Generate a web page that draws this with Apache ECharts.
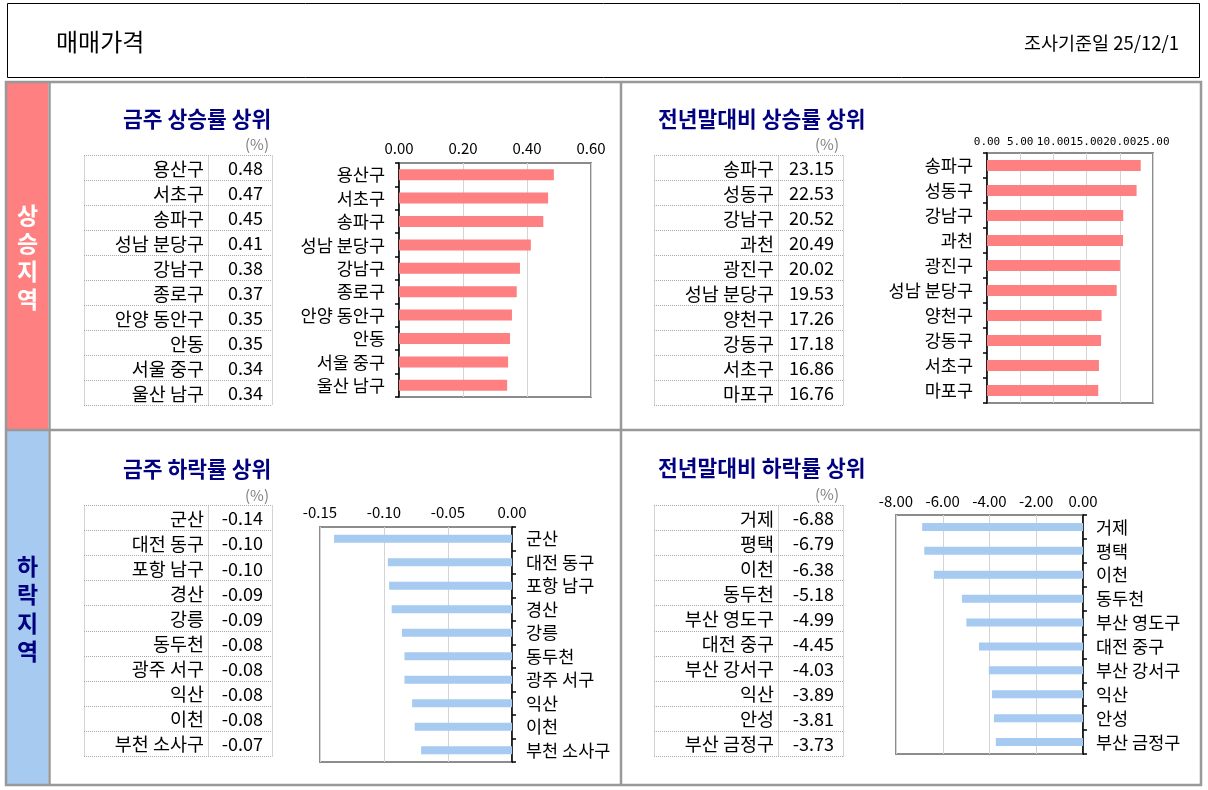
<!DOCTYPE html>
<html>
<head>
<meta charset="utf-8">
<title>매매가격</title>
<script src="https://cdn.jsdelivr.net/npm/echarts@6/dist/echarts.min.js"></script>
<style>
  html, body { margin: 0; padding: 0; background: #fff; }
  #main { width: 1208px; height: 790px; }
</style>
</head>
<body>
<div id="main"></div>
<script>
// ---------------- 데이터 ----------------
var upWeekNames = ['용산구', '서초구', '송파구', '성남 분당구', '강남구', '종로구', '안양 동안구', '안동', '서울 중구', '울산 남구'];
var upWeekValues = [0.484, 0.466, 0.451, 0.412, 0.378, 0.368, 0.353, 0.347, 0.341, 0.338];

var upYearNames = ['송파구', '성동구', '강남구', '과천', '광진구', '성남 분당구', '양천구', '강동구', '서초구', '마포구'];
var upYearValues = [23.15, 22.53, 20.52, 20.49, 20.02, 19.53, 17.26, 17.18, 16.86, 16.76];

var downWeekNames = ['군산', '대전 동구', '포항 남구', '경산', '강릉', '동두천', '광주 서구', '익산', '이천', '부천 소사구'];
var downWeekValues = [-0.139, -0.097, -0.096, -0.094, -0.086, -0.084, -0.084, -0.078, -0.076, -0.071];

var downYearNames = ['거제', '평택', '이천', '동두천', '부산 영도구', '대전 중구', '부산 강서구', '익산', '안성', '부산 금정구'];
var downYearValues = [-6.88, -6.79, -6.38, -5.18, -4.99, -4.45, -4.03, -3.89, -3.81, -3.73];

var upWeekAxis = [0, 0.6, 0.2];      // min, max, interval
var upYearAxis = [0, 25, 5];
var downWeekAxis = [-0.15, 0, 0.05];
var downYearAxis = [-8, 0, 2];

var headerTitle = '매매가격';
var headerDate = '조사기준일 25/12/1';

// ---------------- 스타일 ----------------
var FONT = '"Noto Sans CJK KR", "Noto Sans", sans-serif';
var UP_COLOR = '#FF8080';
var DOWN_COLOR = '#A6CAF0';
var NAVY = '#000080';
var FRAME = '#999999';

var dom = document.getElementById('main');
var chart = echarts.init(dom);

function txt(text, x, y, size, color, align, bold) {
    return {
        type: 'text',
        silent: true,
        style: {
            text: text,
            x: x,
            y: y,
            fill: color,
            font: (bold ? 'bold ' : '') + size + 'px ' + FONT,
            textAlign: align || 'left',
            textVerticalAlign: 'middle'
        }
    };
}

function line(x1, y1, x2, y2, color, width, dash) {
    return {
        type: 'line',
        silent: true,
        shape: { x1: x1, y1: y1, x2: x2, y2: y2 },
        style: { stroke: color, lineWidth: width, lineDash: dash || null }
    };
}

// 표 (점선 테두리)
function table(x0, xMid, x1, top, rowH, names, values) {
    var els = [];
    var n = names.length;
    var dash = [1, 1];
    var c = '#a8a8a8';
    for (var i = 0; i <= n; i++) {
        var y = Math.round(top + rowH * i) + 0.5;
        els.push(line(x0, y, x1, y, c, 1, dash));
    }
    var bottom = Math.round(top + rowH * n) + 0.5;
    els.push(line(x0 + 0.5, top + 0.5, x0 + 0.5, bottom, c, 1, dash));
    els.push(line(xMid + 0.5, top + 0.5, xMid + 0.5, bottom, c, 1, dash));
    els.push(line(x1 + 0.5, top + 0.5, x1 + 0.5, bottom, c, 1, dash));
    for (var j = 0; j < n; j++) {
        var cy = top + rowH * j + rowH / 2 + 1;
        els.push(txt(names[j], xMid - 4, cy, 18.5, '#000', 'right'));
        els.push(txt(values[j].toFixed(2), x1 - 9, cy, 18, '#000', 'right'));
    }
    return els;
}

var graphics = [];

// 헤더
graphics.push({
    type: 'rect', silent: true,
    shape: { x: 7.5, y: 3.5, width: 1192, height: 74 },
    style: { fill: '#fff', stroke: '#000', lineWidth: 1 }
});
graphics.push(txt(headerTitle, 56, 42, 24, '#000', 'left'));
graphics.push(txt(headerDate, 1179, 43, 18.5, '#000', 'right'));

// 왼쪽 지역 구분
graphics.push({ type: 'rect', silent: true, shape: { x: 7, y: 83, width: 41, height: 347 }, style: { fill: UP_COLOR } });
graphics.push({ type: 'rect', silent: true, shape: { x: 7, y: 431, width: 41, height: 354 }, style: { fill: DOWN_COLOR } });
var upLabel = ['상', '승', '지', '역'];
var downLabel = ['하', '락', '지', '역'];
for (var k = 0; k < 4; k++) {
    graphics.push(txt(upLabel[k], 27.5, 215 + k * 28, 23, '#fff', 'center', true));
    graphics.push(txt(downLabel[k], 27.5, 566 + k * 28.5, 23, NAVY, 'center', true));
}

// 외곽 프레임
graphics.push({
    type: 'rect', silent: true,
    shape: { x: 6, y: 82, width: 1195, height: 703 },
    style: { fill: 'none', stroke: FRAME, lineWidth: 2.5 }
});
graphics.push(line(49.5, 82, 49.5, 785, FRAME, 2.5));
graphics.push(line(6, 430, 1201, 430, FRAME, 2.5));
graphics.push(line(621, 82, 621, 785, FRAME, 2.5));

// 제목
graphics.push(txt('금주 상승률 상위', 123, 119, 21.5, NAVY, 'left', true));
graphics.push(txt('전년말대비 상승률 상위', 658, 119, 21.5, NAVY, 'left', true));
graphics.push(txt('금주 하락률 상위', 123, 469, 21.5, NAVY, 'left', true));
graphics.push(txt('전년말대비 하락률 상위', 658, 468, 21.5, NAVY, 'left', true));

graphics.push(txt('(%)', 269, 144, 15, '#808080', 'right'));
graphics.push(txt('(%)', 839, 144, 15, '#808080', 'right'));
graphics.push(txt('(%)', 269, 495, 15, '#808080', 'right'));
graphics.push(txt('(%)', 839, 494, 15, '#808080', 'right'));

// 표
graphics = graphics.concat(table(84, 208, 272, 155, 25, upWeekNames, upWeekValues));
graphics = graphics.concat(table(654, 778, 843, 155, 25, upYearNames, upYearValues));
graphics = graphics.concat(table(84, 208, 272, 505, 25.1, downWeekNames, downWeekValues));
graphics = graphics.concat(table(654, 778, 843, 505, 25.1, downYearNames, downYearValues));

// ---------------- 막대 그래프 ----------------
var grids = [
    { left: 399, top: 163, width: 192, height: 234 },
    { left: 987, top: 153, width: 166, height: 250 },
    { left: 320, top: 527, width: 192, height: 235 },
    { left: 896, top: 515, width: 187, height: 239 }
];
for (var g = 0; g < grids.length; g++) {
    grids[g].show = true;
    grids[g].borderColor = '#8c8c8c';
    grids[g].borderWidth = 2;
    grids[g].backgroundColor = '#fff';
    grids[g].containLabel = false;
}

function valueAxis(idx, range, margin, labelFont, labelSize, digits) {
    return {
        type: 'value',
        gridIndex: idx,
        position: 'top',
        min: range[0],
        max: range[1],
        interval: range[2],
        axisLine: { show: false },
        axisTick: { show: false },
        splitLine: { show: true, lineStyle: { color: '#d4d4d4', width: 1 } },
        axisLabel: {
            margin: margin,
            color: '#000',
            fontFamily: labelFont,
            fontSize: labelSize,
            formatter: function (v) { return v.toFixed(digits); }
        }
    };
}

function catAxis(idx, names, pos, margin) {
    return {
        type: 'category',
        gridIndex: idx,
        position: pos,
        inverse: true,
        data: names,
        axisLine: { show: true, onZero: false, lineStyle: { color: '#000', width: 1.5 } },
        axisTick: { show: true, length: 4, lineStyle: { color: '#000', width: 1.5 } },
        axisLabel: { margin: margin, color: '#000', fontFamily: FONT, fontSize: 17.5 }
    };
}

function barSeries(idx, values, color, width) {
    return {
        type: 'bar',
        xAxisIndex: idx,
        yAxisIndex: idx,
        data: values,
        barWidth: width,
        silent: true,
        itemStyle: { color: color },
        animation: false
    };
}

var option = {
    backgroundColor: '#fff',
    animation: false,
    grid: grids,
    xAxis: [
        valueAxis(0, upWeekAxis, 7, FONT, 15, 2),
        valueAxis(1, upYearAxis, 5, '"DejaVu Sans Mono", monospace', 11, 2),
        valueAxis(2, downWeekAxis, 7, FONT, 15, 2),
        valueAxis(3, downYearAxis, 6, FONT, 15, 2)
    ],
    yAxis: [
        catAxis(0, upWeekNames, 'left', 14),
        catAxis(1, upYearNames, 'left', 14),
        catAxis(2, downWeekNames, 'right', 14),
        catAxis(3, downYearNames, 'right', 13)
    ],
    series: [
        barSeries(0, upWeekValues, UP_COLOR, 11),
        barSeries(1, upYearValues, UP_COLOR, 11),
        barSeries(2, downWeekValues, DOWN_COLOR, 8),
        barSeries(3, downYearValues, DOWN_COLOR, 8)
    ],
    graphic: graphics
};

chart.setOption(option, true);
</script>
</body>
</html>
